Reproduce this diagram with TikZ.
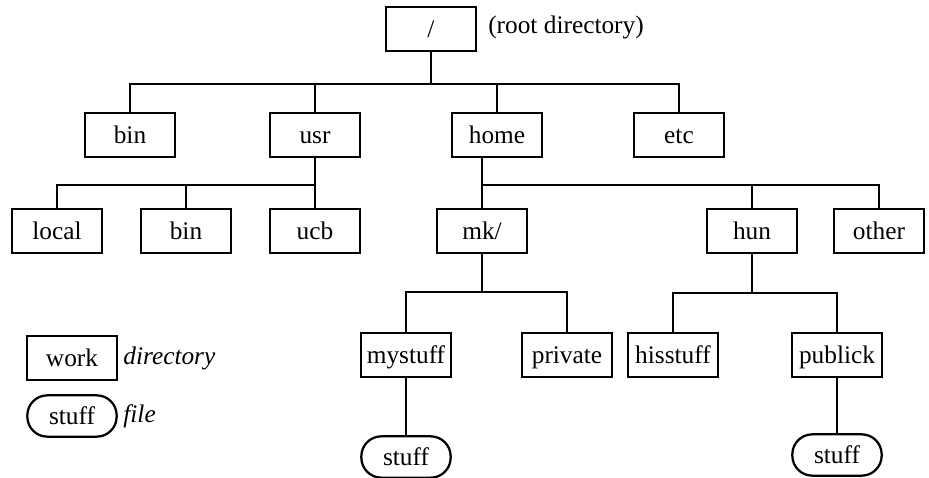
\documentclass[tikz,border=0pt]{standalone}
\usepackage{fontspec}
\setmainfont{Liberation Serif}
\usepackage{tikz}
\usetikzlibrary{calc}
\usetikzlibrary{arrows, shapes}

\begin{document}
\begin{tikzpicture}[x=0.75pt, y=-0.75pt]
\tikzstyle{dir_box}=[rectangle, line width=1.7pt, draw=black, minimum width=67pt, minimum height=33pt, inner sep=1pt, text height=15pt, text depth=2pt, font=\fontsize{19}{21}\selectfont]
\tikzstyle{file_box}=[rectangle, rounded corners=15pt, line width=1.7pt, draw=black, minimum width=67pt, minimum height=31pt, inner sep=1pt, text height=15pt, text depth=2pt, font=\fontsize{19}{21}\selectfont]
\tikzstyle{note}=[inner sep=1pt, font=\fontsize{19}{21}\selectfont]
\tikzstyle{branch}=[line width=2.1pt, line join=miter]

\useasboundingbox (0,0) rectangle (929,478);

\path (431, 29) node[dir_box](Root) {/}
	  (566, 27) node[note](RootLabel) {(root directory)}
	  (130, 135) node[dir_box](Bin1) {bin}
	  (315, 135) node[dir_box](Usr) {usr}
	  (497, 135) node[dir_box](Home) {home}
	  (679, 135) node[dir_box](Etc) {etc}
	  (57, 231) node[dir_box](Local) {local}
	  (186, 231) node[dir_box](Bin2) {bin}
	  (315, 231) node[dir_box](Ucb) {ucb}
	  (482, 231) node[dir_box](Mk) {mk/}
	  (752, 231) node[dir_box](Hun) {hun}
	  (879, 231) node[dir_box](Other) {other}
	  (406, 355) node[dir_box](Mystuff) {mystuff}
	  (567, 355) node[dir_box](Private) {private}
	  (673, 355) node[dir_box](Hisstuff) {hisstuff}
	  (837, 355) node[dir_box](Publick) {publick}
	  (406, 457) node[file_box](Stuff1) {stuff}
	  (837, 455) node[file_box](Stuff2) {stuff};

% legend
\path (72, 358) node[dir_box](LegDir) {work}
	  (72, 416) node[file_box](LegFile) {stuff};
\node[note, anchor=west, xshift=3pt, font=\fontsize{19}{21}\selectfont\itshape] (LegDirText) at (LegDir.east) {directory};
\node[note, anchor=west, xshift=3pt, font=\fontsize{19}{21}\selectfont\itshape] (LegFileText) at (LegFile.east) {file};

% junctions
\coordinate (J0) at (431, 84);
\coordinate (J1) at (315, 185);
\coordinate (J2) at (482, 185);
\coordinate (J3) at (482, 292);
\coordinate (J4) at (752, 293);

\draw[branch] (Root) -- (J0);
\draw[branch] (J0) -| (Bin1);
\draw[branch] (J0) -| (Usr);
\draw[branch] (J0) -| (Home);
\draw[branch] (J0) -| (Etc);
\draw[branch] (Usr) -- (J1);
\draw[branch] (J1) -| (Local);
\draw[branch] (J1) -| (Bin2);
\draw[branch] (J1) -- (Ucb);
\draw[branch] (J2 |- Home.south) -- (Mk);
\draw[branch] (J2) -| (Hun);
\draw[branch] (J2) -| (Other);
\draw[branch] (Mk) -- (J3);
\draw[branch] (J3) -| (Mystuff);
\draw[branch] (J3) -| (Private);
\draw[branch] (Hun) -- (J4);
\draw[branch] (J4) -| (Hisstuff);
\draw[branch] (J4) -| (Publick);
\draw[branch] (Mystuff) -- (Stuff1);
\draw[branch] (Publick) -- (Stuff2);

\end{tikzpicture}
\end{document}
